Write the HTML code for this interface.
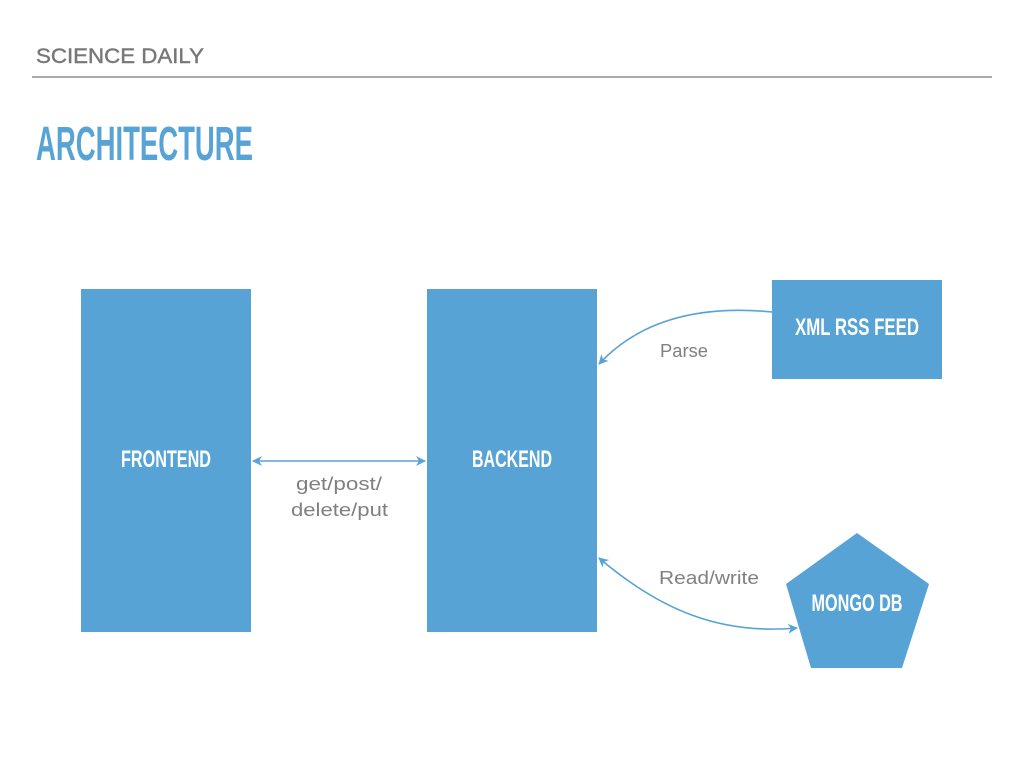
<!DOCTYPE html>
<html><head><meta charset="utf-8"><style>
html,body{margin:0;padding:0;background:#fff;}
svg{display:block}
</style></head><body>
<svg width="1024" height="768" viewBox="0 0 1024 768" xmlns="http://www.w3.org/2000/svg">
<defs>
<marker id="a" markerWidth="10" markerHeight="10" refX="9" refY="5" orient="auto-start-reverse" markerUnits="userSpaceOnUse">
<path d="M0,0 L10,5 L0,10 L3,5 z" fill="#57a3d6"/>
</marker>
</defs>
<text x="36" y="63" font-family="Liberation Sans, sans-serif" font-size="21" fill="#777" stroke="#777" stroke-width="0.4" textLength="168" lengthAdjust="spacingAndGlyphs">SCIENCE DAILY</text>
<rect x="32" y="76" width="960" height="2" fill="#aaa"/>
<text x="36" y="160" font-family="Liberation Sans Narrow, Liberation Sans, sans-serif" font-weight="bold" font-size="48" fill="#57a3d6" textLength="217" lengthAdjust="spacingAndGlyphs">ARCHITECTURE</text>
<g fill="#57a3d6">
<rect x="81" y="289" width="170" height="343"/>
<rect x="427" y="289" width="170" height="343"/>
<rect x="772" y="280" width="170" height="99"/>
<polygon points="857,533 929,584 902,668 811,668 786,584"/>
</g>
<g font-family="Liberation Sans Narrow, Liberation Sans, sans-serif" font-weight="bold" font-size="24" fill="#fff" text-anchor="middle">
<text x="166" y="467" textLength="90" lengthAdjust="spacingAndGlyphs">FRONTEND</text>
<text x="512" y="467" textLength="80" lengthAdjust="spacingAndGlyphs">BACKEND</text>
<text x="857" y="335" textLength="124" lengthAdjust="spacingAndGlyphs">XML RSS FEED</text>
<text x="857" y="611" textLength="91" lengthAdjust="spacingAndGlyphs">MONGO DB</text>
</g>
<g stroke="#57a3d6" stroke-width="1.6" fill="none">
<line x1="253" y1="461" x2="425" y2="461" marker-start="url(#a)" marker-end="url(#a)"/>
<path d="M772,312 C700,305 640,320 599,364" marker-end="url(#a)"/>
<path d="M599,558 C660,610 720,635 797,628" marker-start="url(#a)" marker-end="url(#a)"/>
</g>
<g font-family="Liberation Sans, sans-serif" font-size="18" fill="#808080">
<text x="296" y="490" textLength="86" lengthAdjust="spacingAndGlyphs">get/post/</text>
<text x="291" y="516" textLength="97" lengthAdjust="spacingAndGlyphs">delete/put</text>
<text x="660" y="357" textLength="48" lengthAdjust="spacingAndGlyphs">Parse</text>
<text x="659" y="584" textLength="100" lengthAdjust="spacingAndGlyphs">Read/write</text>
</g>
</svg>
</body></html>
